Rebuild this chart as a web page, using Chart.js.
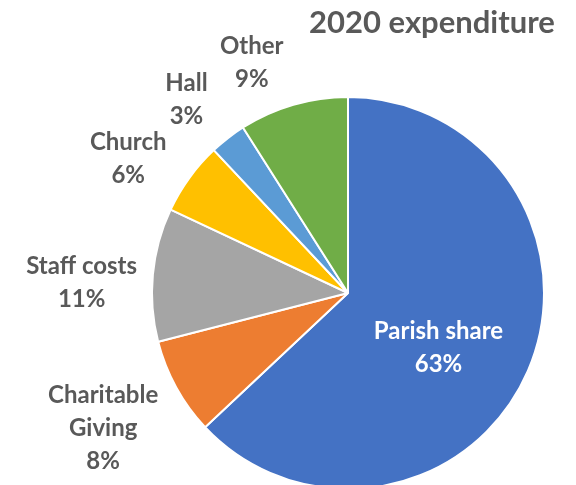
<!DOCTYPE html>
<html><head><meta charset="utf-8">
<script src="https://cdn.jsdelivr.net/npm/chart.js@4"></script>
<style>html,body{margin:0;padding:0;overflow:hidden;background:#fff}#wrap{width:576px;height:490px;position:relative}</style>
</head><body><div id="wrap"><canvas id="c"></canvas></div>
<script>
const chartTitle = '2020 expenditure';
const categories = [['Parish share'], ['Charitable', 'Giving'], ['Staff costs'], ['Church'], ['Hall'], ['Other']];
const values = [63, 8, 11, 6, 3, 9];

const labelPlugin = {
  id: 'sliceLabels',
  afterDatasetsDraw(chart, args, opts) {
    const ctx = chart.ctx;
    const meta = chart.getDatasetMeta(0);
    const total = values.reduce((a, b) => a + b, 0);
    const nudge = opts.nudge || [];
    ctx.save();
    ctx.font = 'bold 24px Lato';
    ctx.textAlign = 'center';
    ctx.textBaseline = 'middle';
    const lh = 33;
    meta.data.forEach((arc, i) => {
      const p = arc.getProps(['x', 'y', 'startAngle', 'endAngle', 'outerRadius'], true);
      const mid = (p.startAngle + p.endAngle) / 2;
      const lines = [...categories[i], Math.round(values[i] / total * 100) + '%'];
      const w = Math.max(...lines.map(l => ctx.measureText(l).width));
      const h = lines.length * lh;
      let cx, cy, color;
      if (values[i] / total > 0.3) {
        const a = mid + 6 * Math.PI / 180;
        cx = p.x + Math.cos(a) * p.outerRadius * 0.53;
        cy = p.y + Math.sin(a) * p.outerRadius * 0.53;
        color = '#ffffff';
      } else {
        const a = mid - 4 * Math.PI / 180;
        const ux = Math.cos(a), uy = Math.sin(a);
        const ext = Math.hypot(w / 2 * ux, h / 2 * uy);
        const R = p.outerRadius + 18 + ext;
        cx = p.x + ux * R; cy = p.y + uy * R;
        color = '#595959';
      }
      const n = nudge[i] || [0, 0];
      cx += n[0]; cy += n[1];
      ctx.fillStyle = color;
      lines.forEach((l, k) => ctx.fillText(l, cx, cy + (k - (lines.length - 1) / 2) * lh));
    });
    ctx.font = 'bold 31px Lato';
    ctx.fillStyle = '#595959';
    ctx.fillText(chartTitle, 432, 23);
    ctx.restore();
  }
};

new Chart(document.getElementById('c'), {
  type: 'pie',
  data: {
    labels: categories.map(c => c.join(' ')),
    datasets: [{
      data: values,
      backgroundColor: ['#4472C4', '#ED7D31', '#A5A5A5', '#FFC000', '#5B9BD5', '#70AD47'],
      borderColor: '#ffffff',
      borderWidth: 2
    }]
  },
  options: {
    responsive: true,
    maintainAspectRatio: false,
    animation: false,
    layout: { padding: { top: 96, bottom: 0, left: 151, right: 31 } },
    plugins: {
      legend: { display: false }, tooltip: { enabled: false }, title: { display: false },
      sliceLabels: { nudge: [[0, 4], [-20, -10], [3, -4], [-7, -1], [0, -13], [-11, 1]] }
    }
  },
  plugins: [labelPlugin]
});
</script>
</body></html>
